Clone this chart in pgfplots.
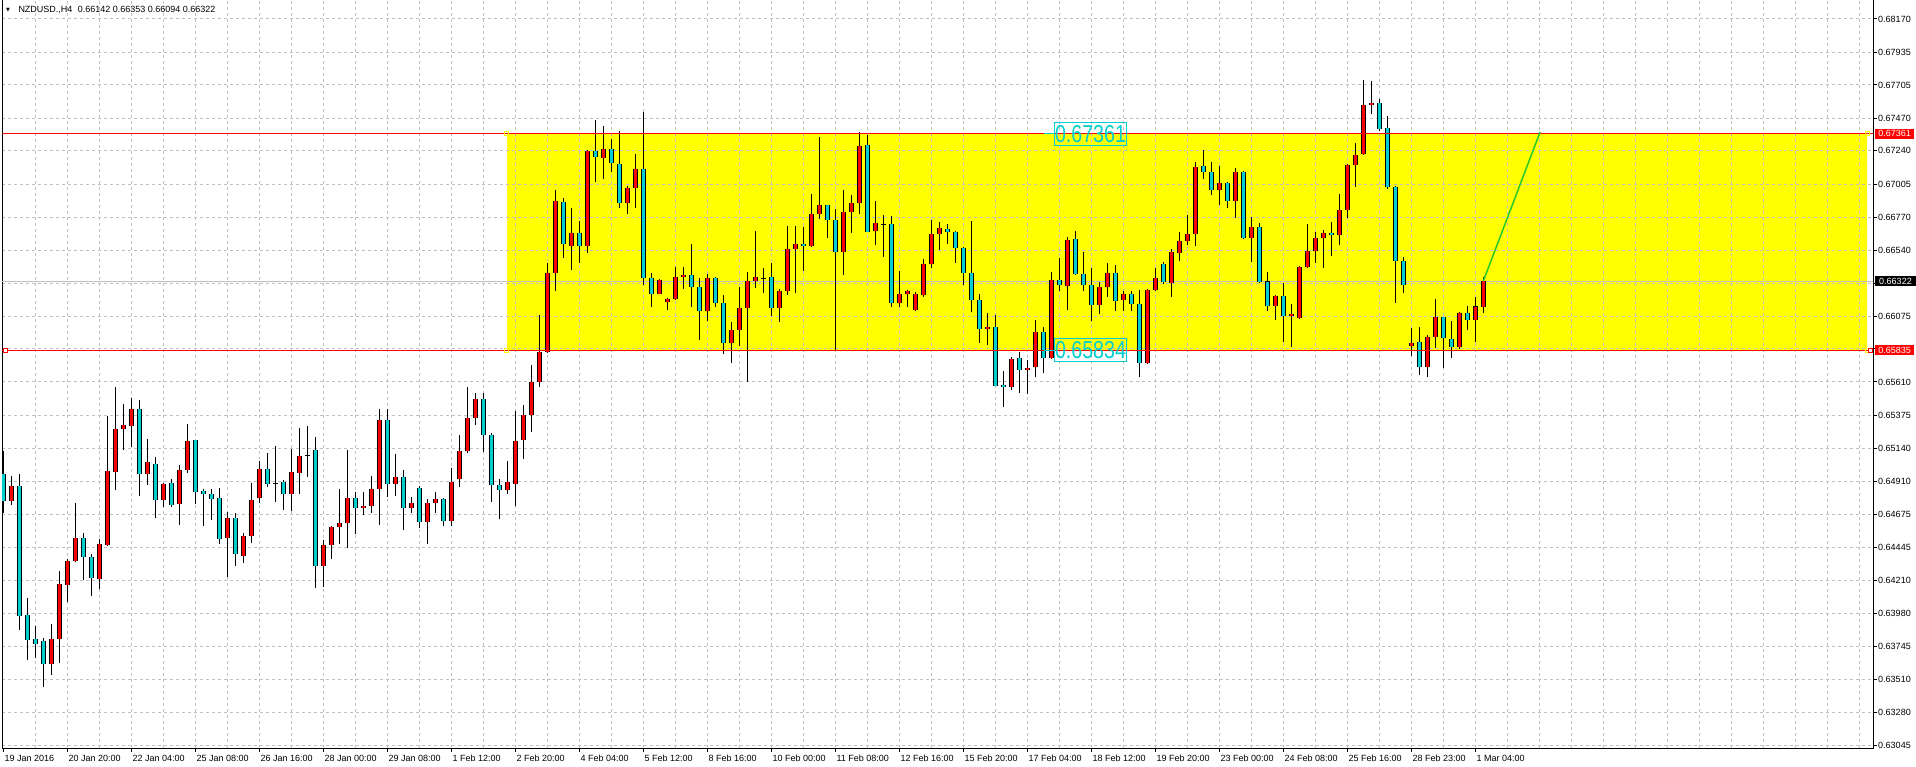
\documentclass[border=0pt]{standalone}
\usepackage{pgfplots}
\pgfplotsset{compat=1.18}
\usepackage{pgfplotstable}
\usepackage{graphicx}
\usepackage{fontspec}
\setmainfont{Liberation Sans}
\newfontfamily\symfont{DejaVu Sans}

\definecolor{mtcyan}{RGB}{0,206,209}
\definecolor{mtred}{RGB}{255,0,0}
\definecolor{mtgrid}{RGB}{192,192,192}
\definecolor{mtyellow}{RGB}{255,255,0}
\definecolor{mtgreen}{RGB}{40,200,40}

% NZDUSD H4 candles: x = bar index, O H L C
\pgfplotstableread{
x O H L C
1 0.64773 0.64947 0.64743 0.64874
6 0.63624 0.63903 0.63546 0.63795
7 0.63800 0.64277 0.63631 0.64183
8 0.64181 0.64362 0.64058 0.64345
9 0.64345 0.64757 0.64340 0.64507
12 0.64223 0.64500 0.64150 0.64465
13 0.64463 0.65370 0.64456 0.64980
14 0.64978 0.65575 0.64851 0.65276
15 0.65276 0.65455 0.65133 0.65304
16 0.65302 0.65495 0.65152 0.65417
18 0.64964 0.65208 0.64886 0.65043
20 0.64780 0.64895 0.64731 0.64888
22 0.64752 0.65025 0.64604 0.64987
23 0.64987 0.65314 0.64971 0.65194
28 0.64512 0.64691 0.64237 0.64648
30 0.64385 0.64545 0.64336 0.64522
31 0.64522 0.64898 0.64477 0.64775
32 0.64790 0.65055 0.64757 0.64994
34 0.64898 0.65159 0.64764 0.64898
36 0.64822 0.65137 0.64700 0.64973
37 0.64970 0.65286 0.64820 0.65086
38 0.65095 0.65300 0.64940 0.65095
40 0.64310 0.64493 0.64167 0.64458
41 0.64458 0.64594 0.64364 0.64585
42 0.64585 0.64855 0.64470 0.64613
43 0.64613 0.65130 0.64442 0.64790
45 0.64719 0.64834 0.64674 0.64733
46 0.64733 0.64947 0.64688 0.64853
47 0.64853 0.65417 0.64604 0.65340
49 0.64893 0.65100 0.64808 0.64938
51 0.64719 0.64799 0.64688 0.64754
53 0.64620 0.64785 0.64470 0.64754
54 0.64754 0.64837 0.64688 0.64782
56 0.64627 0.65001 0.64597 0.64902
57 0.64924 0.65236 0.64872 0.65121
58 0.65121 0.65575 0.65112 0.65354
59 0.65354 0.65532 0.65309 0.65488
63 0.64846 0.65051 0.64822 0.64902
64 0.64893 0.65408 0.64738 0.65192
65 0.65199 0.65448 0.65069 0.65375
66 0.65375 0.65730 0.65260 0.65608
67 0.65612 0.66082 0.65577 0.65819
68 0.65819 0.66449 0.65815 0.66376
69 0.66376 0.66964 0.66254 0.66884
71 0.66567 0.66837 0.66402 0.66658
73 0.66567 0.67246 0.66522 0.67237
75 0.67187 0.67415 0.67044 0.67251
78 0.66870 0.66992 0.66797 0.66976
79 0.66976 0.67218 0.66839 0.67110
82 0.66233 0.66334 0.66228 0.66327
83 0.66172 0.66205 0.66120 0.66193
84 0.66193 0.66421 0.66190 0.66348
85 0.66348 0.66421 0.66268 0.66362
88 0.66108 0.66372 0.66043 0.66341
91 0.65883 0.66033 0.65746 0.65974
92 0.65979 0.66280 0.65866 0.66129
93 0.66129 0.66383 0.65612 0.66320
94 0.66320 0.66675 0.66275 0.66348
95 0.66346 0.66414 0.66240 0.66346
97 0.66129 0.66263 0.66035 0.66249
98 0.66249 0.66710 0.66226 0.66546
99 0.66546 0.66710 0.66235 0.66581
101 0.66567 0.66936 0.66565 0.66792
102 0.66792 0.67340 0.66762 0.66856
105 0.66524 0.66964 0.66367 0.66807
106 0.66807 0.66931 0.66663 0.66870
107 0.66870 0.67371 0.66797 0.67272
109 0.66673 0.66886 0.66578 0.66729
110 0.66727 0.66785 0.66494 0.66727
112 0.66165 0.66390 0.66141 0.66228
113 0.66228 0.66256 0.66137 0.66249
114 0.66115 0.66242 0.66113 0.66228
115 0.66221 0.66477 0.66212 0.66440
116 0.66440 0.66752 0.66411 0.66651
117 0.66651 0.66736 0.66543 0.66694
123 0.65981 0.66099 0.65871 0.65996
126 0.65572 0.65789 0.65554 0.65772
128 0.65692 0.65765 0.65523 0.65709
129 0.65713 0.66047 0.65643 0.65960
131 0.65782 0.66386 0.65770 0.66327
133 0.66285 0.66635 0.66118 0.66611
137 0.66151 0.66318 0.66087 0.66278
138 0.66278 0.66447 0.66207 0.66376
140 0.66186 0.66252 0.66108 0.66228
143 0.65742 0.66266 0.65735 0.66256
144 0.66256 0.66416 0.66252 0.66341
146 0.66306 0.66546 0.66207 0.66524
147 0.66517 0.66665 0.66466 0.66602
148 0.66602 0.66785 0.66574 0.66651
149 0.66651 0.67161 0.66571 0.67124
152 0.66962 0.67133 0.66861 0.67011
154 0.66884 0.67117 0.66769 0.67089
156 0.66623 0.66771 0.66459 0.66701
159 0.66144 0.66224 0.66045 0.66214
161 0.66073 0.66160 0.65854 0.66087
162 0.66059 0.66430 0.66055 0.66423
163 0.66423 0.66722 0.66411 0.66531
164 0.66531 0.66665 0.66452 0.66623
165 0.66623 0.66680 0.66411 0.66658
167 0.66644 0.66933 0.66578 0.66821
168 0.66821 0.67150 0.66767 0.67138
169 0.67138 0.67293 0.66988 0.67209
170 0.67216 0.67740 0.67210 0.67564
171 0.67561 0.67733 0.67500 0.67578
176 0.65866 0.65993 0.65796 0.65883
178 0.65718 0.65939 0.65643 0.65925
179 0.65925 0.66193 0.65852 0.66066
182 0.65854 0.66101 0.65840 0.66094
184 0.66045 0.66212 0.65894 0.66142
185 0.66142 0.66353 0.66094 0.66322
}\bull

\pgfplotstableread{
x O H L C
0 0.64959 0.65123 0.64688 0.64773
2 0.64874 0.64959 0.63861 0.63962
3 0.63964 0.64087 0.63649 0.63793
4 0.63795 0.63887 0.63664 0.63765
5 0.63781 0.63807 0.63461 0.63619
10 0.64507 0.64545 0.64211 0.64373
11 0.64373 0.64397 0.64103 0.64225
17 0.65417 0.65483 0.64806 0.64964
19 0.65029 0.65079 0.64653 0.64780
21 0.64895 0.64924 0.64731 0.64745
24 0.65199 0.65203 0.64752 0.64837
25 0.64839 0.64853 0.64597 0.64818
26 0.64818 0.64855 0.64639 0.64787
27 0.64790 0.64862 0.64470 0.64505
29 0.64648 0.64684 0.64315 0.64395
33 0.64994 0.65107 0.64872 0.64888
35 0.64902 0.64916 0.64707 0.64822
39 0.65128 0.65220 0.64160 0.64310
44 0.64790 0.64834 0.64540 0.64719
48 0.65340 0.65417 0.64801 0.64893
50 0.64938 0.64987 0.64569 0.64719
52 0.64860 0.64874 0.64583 0.64620
55 0.64782 0.64792 0.64597 0.64627
60 0.65488 0.65532 0.65119 0.65234
61 0.65234 0.65250 0.64766 0.64881
62 0.64884 0.64924 0.64641 0.64846
70 0.66877 0.66908 0.66487 0.66586
72 0.66658 0.66748 0.66452 0.66567
74 0.67237 0.67458 0.67023 0.67194
76 0.67251 0.67321 0.67093 0.67152
77 0.67145 0.67380 0.66839 0.66870
80 0.67110 0.67514 0.66294 0.66341
81 0.66341 0.66379 0.66141 0.66228
86 0.66362 0.66583 0.66141 0.66278
87 0.66278 0.66343 0.65909 0.66108
89 0.66341 0.66350 0.66141 0.66165
90 0.66165 0.66224 0.65810 0.65883
96 0.66348 0.66449 0.66078 0.66129
100 0.66581 0.66705 0.66395 0.66567
103 0.66856 0.66861 0.66628 0.66750
104 0.66750 0.66830 0.65836 0.66524
108 0.67279 0.67354 0.66665 0.66670
111 0.66722 0.66778 0.66141 0.66165
118 0.66687 0.66724 0.66586 0.66665
119 0.66665 0.66673 0.66452 0.66553
120 0.66553 0.66560 0.66296 0.66376
121 0.66376 0.66743 0.66101 0.66186
122 0.66186 0.66231 0.65887 0.65981
124 0.65996 0.66080 0.65580 0.65584
125 0.65586 0.65688 0.65436 0.65572
127 0.65777 0.65819 0.65535 0.65692
130 0.65960 0.65995 0.65671 0.65782
132 0.66327 0.66487 0.66254 0.66292
134 0.66616 0.66675 0.66365 0.66369
135 0.66369 0.66527 0.66254 0.66292
136 0.66292 0.66416 0.66043 0.66151
139 0.66376 0.66437 0.66108 0.66179
141 0.66228 0.66252 0.66108 0.66158
142 0.66158 0.66259 0.65643 0.65742
145 0.66440 0.66454 0.66299 0.66313
150 0.67131 0.67246 0.67044 0.67089
151 0.67089 0.67159 0.66931 0.66962
153 0.67011 0.67020 0.66839 0.66884
155 0.67089 0.67096 0.66616 0.66623
157 0.66701 0.66729 0.66310 0.66318
158 0.66318 0.66383 0.66113 0.66144
160 0.66214 0.66306 0.65894 0.66073
166 0.66658 0.66736 0.66501 0.66644
172 0.67575 0.67606 0.67383 0.67397
173 0.67399 0.67486 0.66974 0.66983
174 0.66985 0.66990 0.66165 0.66466
175 0.66466 0.66489 0.66235 0.66292
177 0.65890 0.65995 0.65659 0.65718
180 0.66066 0.66071 0.65711 0.65918
181 0.65916 0.66043 0.65782 0.65854
183 0.66094 0.66146 0.65974 0.66045
}\bear

\pgfplotsset{
  candle/.style 2 args={draw=none, forget plot,
    error bars/.cd, y dir=plus, y explicit, error mark=none,
    error bar style={draw=#1, line width=#2, solid, line cap=butt}},
}

\begin{document}
\begin{tikzpicture}[font=\fontsize{9}{10}\selectfont]
\begin{axis}[
  set layers,
  scale only axis, width=1871pt, height=748pt,
  xmin=-0.1625, xmax=233.7125, ymin=0.630287, ymax=0.68304,
  axis line style={black, line width=1pt},
  tick align=outside, major tick length=4pt, minor tick length=0pt,
  tick style={black, line width=1pt},
  xtick pos=left, ytick pos=right, yticklabel pos=right,
  xtick={0,8,...,184},
  xticklabels={19 Jan 2016, 20 Jan 20:00, 22 Jan 04:00, 25 Jan 08:00, 26 Jan 16:00, 28 Jan 00:00, 29 Jan 08:00, 1 Feb 12:00, 2 Feb 20:00, 4 Feb 04:00, 5 Feb 12:00, 8 Feb 16:00, 10 Feb 00:00, 11 Feb 08:00, 12 Feb 16:00, 15 Feb 20:00, 17 Feb 04:00, 18 Feb 12:00, 19 Feb 20:00, 23 Feb 00:00, 24 Feb 08:00, 25 Feb 16:00, 28 Feb 23:00, 1 Mar 04:00},
  minor xtick={4,8,...,232},
  xminorgrids=true, ymajorgrids=true,
  grid style={mtgrid, line width=1pt, dash pattern=on 3pt off 3pt},
  minor grid style={mtgrid, line width=1pt, dash pattern=on 3pt off 3pt},
  ytick={0.63045,0.63280,0.63510,0.63745,0.63980,0.64210,0.64445,0.64675,0.64910,0.65140,0.65375,0.65610,0.65845,0.66075,0.66305,0.66540,0.66770,0.67005,0.67240,0.67470,0.67705,0.67935,0.68170},
  yticklabels={0.63045,0.63280,0.63510,0.63745,0.63980,0.64210,0.64445,0.64675,0.64910,0.65140,0.65375,0.65610,{},0.66075,{},0.66540,0.66770,0.67005,0.67240,0.67470,0.67705,0.67935,0.68170},
  tick label style={font=\fontsize{9}{10}\selectfont},
  xticklabel style={anchor=north west, inner sep=0pt, xshift=1pt, yshift=-3pt},
  yticklabel style={anchor=west, inner sep=0pt, xshift=1pt},
]
% support / resistance zone
\addplot[on layer=axis background, fill=mtyellow, draw=none] coordinates {(62.93,0.65835) (232.96,0.65835) (232.96,0.67361) (62.93,0.67361)} --cycle;
% current bid line
\addplot[mtgrid, line width=1pt] coordinates {(-1,0.66322) (240,0.66322)};

% wicks
\addplot[candle={black}{1pt}] table[x=x, y=L, y error expr=\thisrow{H}-\thisrow{L}] {\bull};
\addplot[candle={black}{1pt}] table[x=x, y=L, y error expr=\thisrow{H}-\thisrow{L}] {\bear};
% body outlines
\addplot[candle={black}{5pt}] table[x=x, y expr=\thisrow{O}-0.000007, y error expr=\thisrow{C}-\thisrow{O}+0.000014] {\bull};
\addplot[candle={black}{5pt}] table[x=x, y expr=\thisrow{C}-0.000007, y error expr=\thisrow{O}-\thisrow{C}+0.000014] {\bear};
% body fills
\addplot[candle={mtred}{3pt}] table[x=x, y=O, y error expr=\thisrow{C}-\thisrow{O}] {\bull};
\addplot[candle={mtcyan}{3pt}] table[x=x, y=C, y error expr=\thisrow{O}-\thisrow{C}] {\bear};

% level lines
\addplot[mtred, line width=1pt] coordinates {(-1,0.67361) (240,0.67361)};
\addplot[mtred, line width=1pt] coordinates {(-1,0.65835) (240,0.65835)};
\addplot[mtcyan, line width=1pt] coordinates {(130.1,0.67361) (131.4,0.67361)};
\addplot[mtcyan, line width=1pt] coordinates {(130.1,0.65835) (131.4,0.65835)};
\addplot[mtgreen, line width=1.5pt] coordinates {(185,0.66322) (192.1,0.67373)};
\addplot[only marks, mark=square, mark size=2pt, mark options={draw=mtyellow, line width=1pt}] coordinates {(62.93,0.67361) (62.93,0.65835) (232.96,0.67361) (232.96,0.65835)};
\addplot[only marks, mark=square*, mark size=2pt, mark options={draw=mtred, fill=white, line width=1pt}] coordinates {(0.25,0.65835) (233.34,0.65835)};

\coordinate (lab1) at (axis cs:135.9,0.67361);
\coordinate (lab2) at (axis cs:135.9,0.65835);
\coordinate (r1) at (axis cs:233.7125,0.67361);
\coordinate (r2) at (axis cs:233.7125,0.66322);
\coordinate (r3) at (axis cs:233.7125,0.65835);
\end{axis}

\node[draw=mtcyan, line width=1pt, text=mtcyan, inner xsep=1pt, inner ysep=3pt, font=\fontsize{24.5}{26}\selectfont] at (lab1) {\scalebox{0.8}[1]{0.67361}};
\node[draw=mtcyan, line width=1pt, text=mtcyan, inner xsep=1pt, inner ysep=3pt, font=\fontsize{24.5}{26}\selectfont] at (lab2) {\scalebox{0.8}[1]{0.65834}};

\node[anchor=west, fill=mtred, text=white, inner xsep=3.2pt, inner ysep=1.8pt, xshift=2pt] at (r1) {0.67361};
\node[anchor=west, fill=black, text=white, inner xsep=4pt, inner ysep=1.8pt, xshift=2pt] at (r2) {0.66322};
\node[anchor=west, fill=mtred, text=white, inner xsep=3.2pt, inner ysep=1.8pt, xshift=2pt] at (r3) {0.65835};

\node[font=\symfont\fontsize{5}{6}\selectfont, inner sep=0pt] at (6pt,738pt) {▼};
\node[anchor=west, inner sep=0pt] at (16.3pt,738pt) {NZDUSD.,H4\hspace{0.6em}0.66142 0.66353 0.66094 0.66322};

\pgfresetboundingbox
\path[use as bounding box] (-2pt,-18pt) rectangle (1914pt,748pt);
\end{tikzpicture}
\end{document}
